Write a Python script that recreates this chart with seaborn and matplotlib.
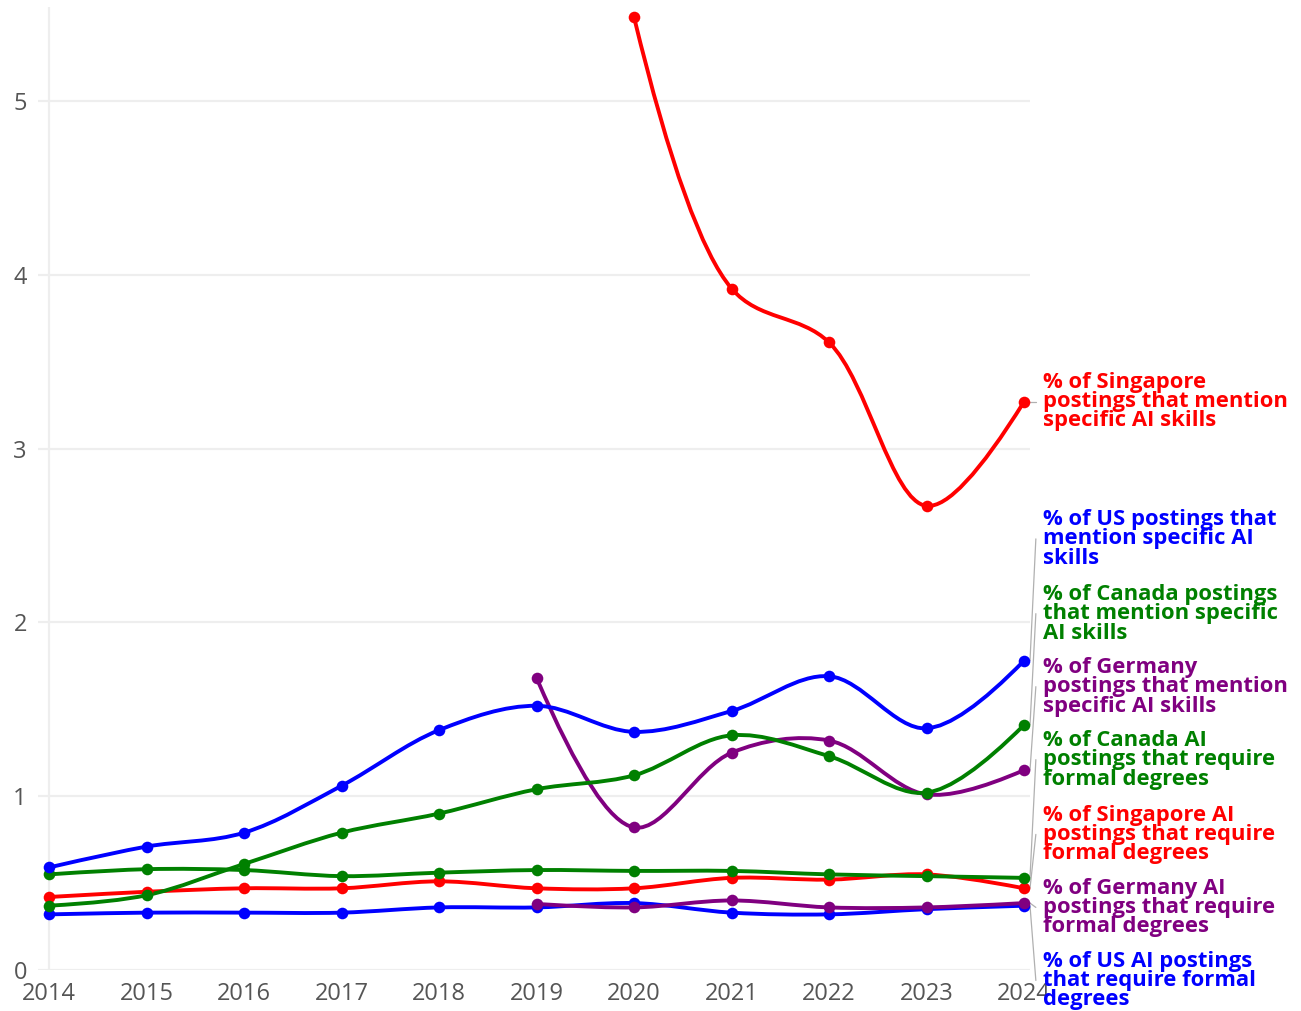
import numpy as np
import pandas as pd
import seaborn as sns
import matplotlib.pyplot as plt
from matplotlib.path import Path
from matplotlib.patches import PathPatch

#%% data
years = list(range(2014, 2025))
years_de = list(range(2019, 2025))
years_sg = list(range(2020, 2025))

sg_skills = [5.48, 3.92, 3.61, 2.67, 3.27]
us_skills = [0.59, 0.71, 0.79, 1.06, 1.38, 1.52, 1.37, 1.49, 1.69, 1.39, 1.78]
ca_skills = [0.37, 0.43, 0.61, 0.79, 0.90, 1.04, 1.12, 1.35, 1.23, 1.02, 1.41]
de_skills = [1.68, 0.82, 1.25, 1.32, 1.01, 1.15]
ca_degrees = [0.55, 0.58, 0.575, 0.54, 0.56, 0.575, 0.57, 0.57, 0.55, 0.54, 0.53]
sg_degrees = [0.42, 0.45, 0.47, 0.47, 0.51, 0.47, 0.47, 0.53, 0.52, 0.55, 0.47]
de_degrees = [0.38, 0.36, 0.40, 0.36, 0.36, 0.385]
us_degrees = [0.32, 0.33, 0.33, 0.33, 0.36, 0.36, 0.385, 0.33, 0.32, 0.35, 0.37]

series = [
    ("% of US AI postings\nthat require formal\ndegrees", years, us_degrees, "#0000ff", -0.06),
    ("% of Germany AI\npostings that require\nformal degrees", years_de, de_degrees, "#800080", 0.36),
    ("% of Singapore AI\npostings that require\nformal degrees", years, sg_degrees, "#ff0000", 0.78),
    ("% of Canada AI\npostings that require\nformal degrees", years, ca_degrees, "#008000", 1.21),
    ("% of Germany\npostings that mention\nspecific AI skills", years_de, de_skills, "#800080", 1.63),
    ("% of Canada postings\nthat mention specific\nAI skills", years, ca_skills, "#008000", 2.05),
    ("% of US postings that\nmention specific AI\nskills", years, us_skills, "#0000ff", 2.48),
    ("% of Singapore\npostings that mention\nspecific AI skills", years_sg, sg_skills, "#ff0000", 3.27),
]

rows = []
for name, xs, ys, col, _ in series:
    for x, y in zip(xs, ys):
        rows.append({"year": x, "value": y, "series": name})
df = pd.DataFrame(rows)

#%% plot
sns.set_theme(style="white")
plt.rcParams['font.family'] = ['Open Sans', 'DejaVu Sans']

fig = plt.figure(figsize=(13.01, 10.11), dpi=100)
ax = fig.add_axes([38 / 1301, 41 / 1011, (1030 - 38) / 1301, (970 - 7) / 1011])
ax.set_xlim(2013.887, 2024.06)
ax.set_ylim(0, 5.54)


def tangent(p0, p1, p2, s=1.0):
    # plotly style catmull-rom tangent, in pixel space
    d1 = p0 - p1
    d2 = p2 - p1
    d1a = np.hypot(*d1) ** 0.5
    d2a = np.hypot(*d2) ** 0.5
    num = (d2a * d2a * d1 - d1a * d1a * d2) * s
    den1 = 3 * d2a * (d1a + d2a)
    den2 = 3 * d1a * (d1a + d2a)
    return p1 + num / den1, p1 - num / den2


def spline_path(xs, ys):
    pts = ax.transData.transform(np.column_stack([xs, ys]))
    n = len(pts)
    tans = [tangent(pts[i - 1], pts[i], pts[i + 1]) for i in range(1, n - 1)]
    verts = [pts[0], tans[0][0], pts[1]]
    codes = [Path.MOVETO, Path.CURVE3, Path.CURVE3]
    for i in range(1, n - 2):
        verts += [tans[i - 1][1], tans[i][0], pts[i + 1]]
        codes += [Path.CURVE4] * 3
    verts += [tans[n - 3][1], pts[n - 1]]
    codes += [Path.CURVE3] * 2
    verts = ax.transData.inverted().transform(np.array(verts))
    return Path(verts, codes)


for name, xs, ys, col, _ in series:
    ax.add_patch(PathPatch(spline_path(xs, ys), facecolor="none", edgecolor=col,
                           lw=2.8, capstyle="round", joinstyle="round", zorder=3))
    sns.scatterplot(data=df[df.series == name], x="year", y="value", color=col,
                    s=70, linewidth=0, ax=ax, zorder=4, legend=False)

# labels at the right with leader lines
for name, xs, ys, col, ly in series:
    ax.plot([2024.06, 2024.12], [ys[-1], ly], color="#b0b0b0", lw=0.9, clip_on=False)
    ax.text(2024.195, ly, name, color=col, fontsize=15.8, fontweight="bold",
            va="center", ha="left", linespacing=0.9, clip_on=False)

# axes styling
ax.set_yticks([0, 1, 2, 3, 4, 5])
ax.set_xticks(years)
ax.grid(axis="y", color="#eeeeee", lw=1.6)
ax.axvline(2014, color="#eeeeee", lw=1.6, zorder=0)
for sp in ax.spines.values():
    sp.set_visible(False)
ax.tick_params(axis="y", length=0, pad=8, labelsize=17, labelcolor="#555555")
ax.tick_params(axis="x", length=6, color="#e6e6e6", pad=3, labelsize=17, labelcolor="#555555")
ax.set_xlabel("")
ax.set_ylabel("")

fig.savefig("out.png", dpi=100)
